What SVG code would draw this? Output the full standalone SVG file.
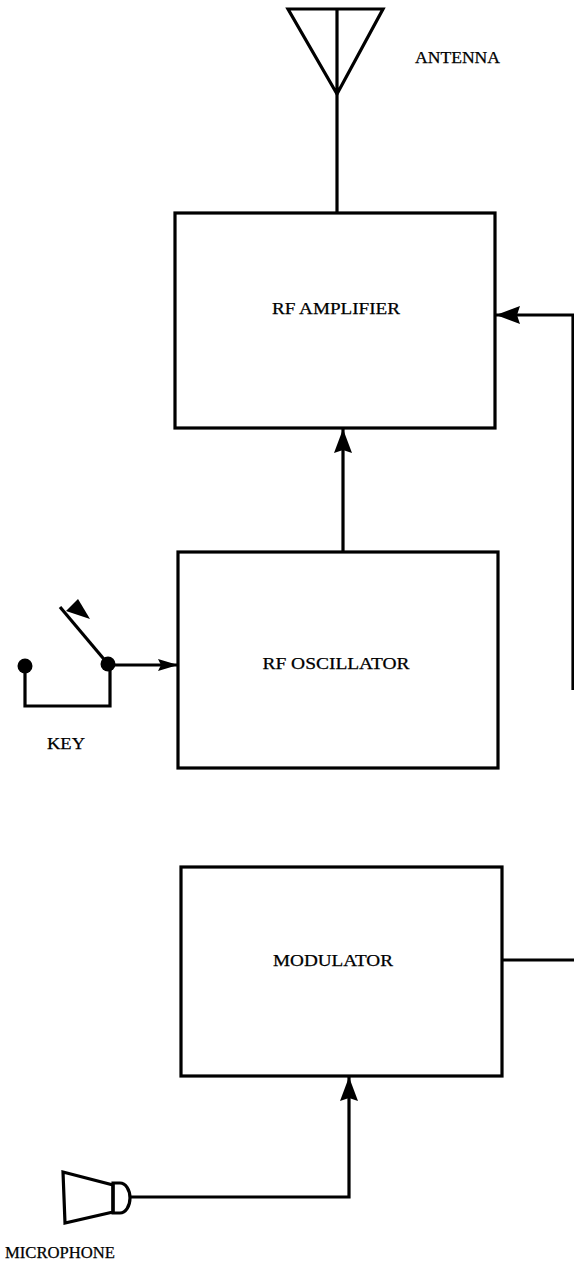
<svg xmlns="http://www.w3.org/2000/svg" width="574" height="1265" viewBox="0 0 574 1265">
<style>
.box{fill:none;stroke:#000;stroke-width:3.2;stroke-linejoin:miter}
.ln{fill:none;stroke:#000;stroke-width:3.2}
.lbl{font-family:"Liberation Serif","Times New Roman",serif;font-size:16px;fill:#000;stroke:#000;stroke-width:0.25}
</style>
<defs>
<marker id="ah" viewBox="0 0 24 20" refX="24" refY="10" markerWidth="24" markerHeight="20" markerUnits="userSpaceOnUse" orient="auto">
<path d="M0,1 L24,10 L0,19 L3,10 Z" fill="#000"/>
</marker>
<marker id="ahs" viewBox="0 0 20 13" refX="20" refY="6.5" markerWidth="20" markerHeight="13" markerUnits="userSpaceOnUse" orient="auto">
<path d="M0,0.5 L20,6.5 L0,12.5 L3,6.5 Z" fill="#000"/>
</marker>
</defs>
<rect width="574" height="1265" fill="#fff"/>
<g id="antenna">
<path class="ln" d="M288,9 L383,9 L337,94 Z M337,9 L337,94"/>
<text class="lbl" x="415" y="63" textLength="85" lengthAdjust="spacingAndGlyphs">ANTENNA</text>
</g>
<g id="rf-amplifier">
<rect class="box" x="175" y="213" width="320" height="215"/>
<text class="lbl" x="336" y="314" text-anchor="middle" textLength="128" lengthAdjust="spacingAndGlyphs">RF AMPLIFIER</text>
</g>
<g id="rf-oscillator">
<rect class="box" x="178" y="552" width="320" height="216"/>
<text class="lbl" x="336" y="669" text-anchor="middle" textLength="147" lengthAdjust="spacingAndGlyphs">RF OSCILLATOR</text>
</g>
<g id="key">
<circle cx="25" cy="666" r="7.5" fill="#000"/>
<circle cx="108" cy="664" r="7.5" fill="#000"/>
<path class="ln" d="M25,666 L25,706 L110,706 L110,664"/>
<path class="ln" d="M108,664 L60,607"/>
<path d="M78,599 L90,619 L66,611 Z" fill="#000"/>
<text class="lbl" x="47" y="749" textLength="38" lengthAdjust="spacingAndGlyphs">KEY</text>
</g>
<g id="modulator">
<rect class="box" x="181" y="867" width="321" height="209"/>
<text class="lbl" x="333" y="966" text-anchor="middle" textLength="120" lengthAdjust="spacingAndGlyphs">MODULATOR</text>
</g>
<g id="microphone">
<path class="ln" d="M63,1172 L113,1185 L113,1212 L65,1223 Z"/>
<path class="ln" d="M113,1183 L120,1183 A10,15 0 0 1 120,1213 L113,1213 Z"/>
<text class="lbl" x="5" y="1258" textLength="110" lengthAdjust="spacingAndGlyphs">MICROPHONE</text>
</g>
<g id="connectors">
<path class="ln" d="M337,94 L337,213"/>
<path class="ln" d="M343,552 L343,429" marker-end="url(#ah)"/>
<path class="ln" d="M114,665 L178,665" marker-end="url(#ahs)"/>
<path class="ln" d="M573,690 L573,315 L496,315" marker-end="url(#ah)"/>
<path class="ln" d="M502,960 L574,960"/>
<path class="ln" d="M130,1197 L349,1197 L349,1077" marker-end="url(#ah)"/>
</g>
</svg>
